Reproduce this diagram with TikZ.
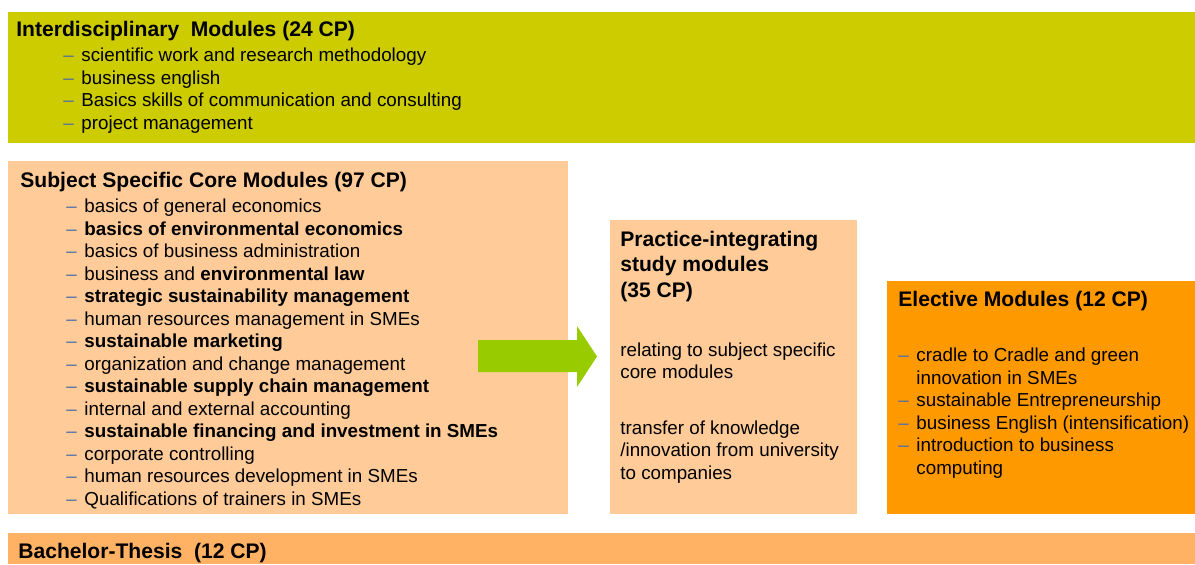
\documentclass[tikz,border=0pt]{standalone}
\usepackage{fontspec}
\setmainfont{Liberation Sans}
\usetikzlibrary{positioning}
\definecolor{interdyellow}{HTML}{CCCC00}
\definecolor{corepeach}{HTML}{FFCC99}
\definecolor{electorange}{HTML}{FF9900}
\definecolor{thesisorange}{HTML}{FFB164}
\definecolor{flowgreen}{HTML}{99CC00}
\definecolor{dashblue}{HTML}{4F6DAA}
\newcommand{\itm}{\makebox[10.3pt][l]{\textcolor{dashblue}{--}}}
\newcommand{\cont}{\hspace*{10.3pt}}
\tikzstyle{block} = [rectangle, anchor=north west, inner sep=0pt, outer sep=0pt]
\tikzstyle{heading} = [anchor=base west, inner sep=0pt, align=left, font=\fontsize{12}{14.5}\selectfont\bfseries]
\tikzstyle{items} = [anchor=base west, inner sep=0pt, align=left, font=\fontsize{10.7}{12.8}\selectfont]
\begin{document}
\begin{tikzpicture}[x=0.02cm, y=-0.02cm]

    \useasboundingbox (0,0) rectangle (1195,564);

    % coloured blocks
    \node (interd) [block, fill=interdyellow, minimum width=23.74cm, minimum height=2.62cm] at (8,12) {};
    \node (core) [block, fill=corepeach, minimum width=11.2cm, minimum height=7.06cm] at (8,161) {};
    \node (practice) [block, fill=corepeach, minimum width=4.94cm, minimum height=5.88cm] at (610,220) {};
    \node (elective) [block, fill=electorange, minimum width=6.16cm, minimum height=4.66cm] at (887,281) {};
    \node (thesis) [block, fill=thesisorange, minimum width=23.74cm, minimum height=0.62cm] at (8,533) {};

    % big green arrow
    \fill [flowgreen] (478,340) -- (577,340) -- (577,326) -- (597,356.5) -- (577,387) -- (577,372) -- (478,372) -- cycle;

    % texts (base = baseline of the last line)
    \node (interdtitle) [heading] at (16,36.7) {Interdisciplinary\ \ Modules (24 CP)};
    \node (interditems) [items] at (63,129.4) {\itm scientific work and research methodology\\
        \itm business english\\
        \itm Basics skills of communication and consulting\\
        \itm project management};

    \node (coretitle) [heading] at (20,187.5) {Subject Specific Core Modules (97 CP)};
    \node (coreitems) [items] at (66,505.3) {\itm basics of general economics\\
        \itm \textbf{basics of environmental economics}\\
        \itm basics of business administration\\
        \itm business and \textbf{environmental law}\\
        \itm \textbf{strategic sustainability management}\\
        \itm human resources management in SMEs\\
        \itm \textbf{sustainable marketing}\\
        \itm organization and change management\\
        \itm \textbf{sustainable supply chain management}\\
        \itm internal and external accounting\\
        \itm \textbf{sustainable financing and investment in SMEs}\\
        \itm corporate controlling\\
        \itm human resources development in SMEs\\
        \itm Qualifications of trainers in SMEs};

    \node (practicetitle) [heading] at (620,297) {Practice-integrating\\study modules\\(35 CP)};
    \node (practicetext) [items] at (620,479) {relating to subject specific\\
        core modules\\[18.8pt]
        transfer of knowledge\\
        /innovation from university\\
        to companies};

    \node (electivetitle) [heading] at (898,306) {Elective Modules (12 CP)};
    \node (electiveitems) [items] at (898,474) {\itm cradle to Cradle and green\\
        \cont innovation in SMEs\\
        \itm sustainable Entrepreneurship\\
        \itm business English (intensification)\\
        \itm introduction to business\\
        \cont computing};

    \node (thesistitle) [heading] at (18,558) {Bachelor-Thesis\ \ (12 CP)};

\end{tikzpicture}
\end{document}
